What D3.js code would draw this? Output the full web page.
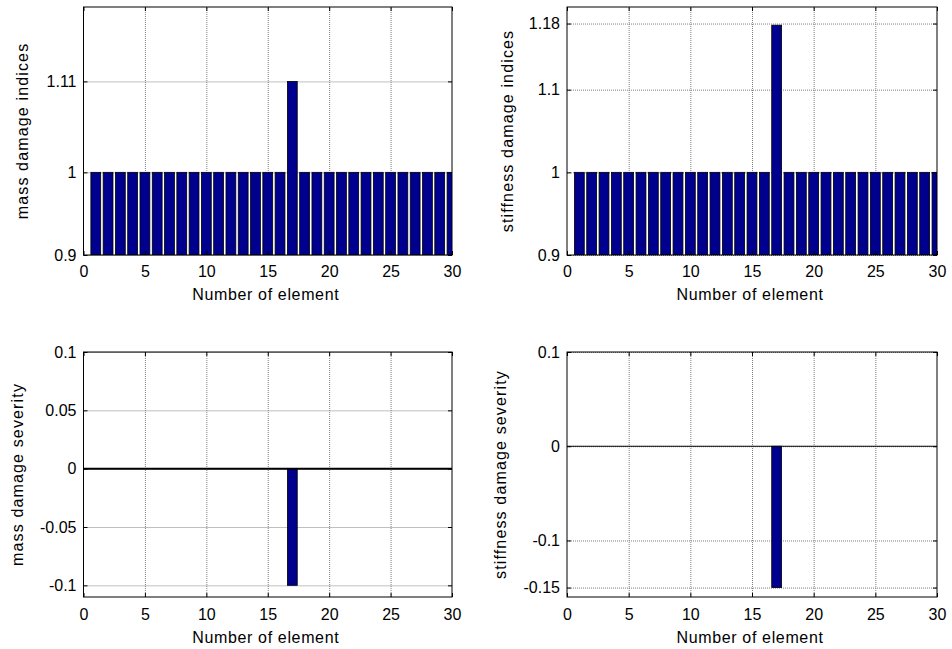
<!DOCTYPE html>
<html>
<head>
<meta charset="utf-8">
<script src="https://cdn.jsdelivr.net/npm/d3@7"></script>
<style>
    body { margin: 0; background: #fff; }
    svg { display: block; font-family: 'Liberation Sans', Arial, sans-serif; }
</style>
</head>
<body>
<div id="d3-chart"></div>
<script>
// Element numbers (categories)
const elements = [1, 2, 3, 4, 5, 6, 7, 8, 9, 10, 11, 12, 13, 14, 15,
    16, 17, 18, 19, 20, 21, 22, 23, 24, 25, 26, 27, 28, 29, 30];

// Series values
const massIndices = [1, 1, 1, 1, 1, 1, 1, 1, 1, 1, 1, 1, 1, 1, 1,
    1, 1.11, 1, 1, 1, 1, 1, 1, 1, 1, 1, 1, 1, 1, 1];
const stiffnessIndices = [1, 1, 1, 1, 1, 1, 1, 1, 1, 1, 1, 1, 1, 1, 1,
    1, 1.178, 1, 1, 1, 1, 1, 1, 1, 1, 1, 1, 1, 1, 1];
const massSeverity = [0, 0, 0, 0, 0, 0, 0, 0, 0, 0, 0, 0, 0, 0, 0,
    0, -0.1, 0, 0, 0, 0, 0, 0, 0, 0, 0, 0, 0, 0, 0];
const stiffnessSeverity = [0, 0, 0, 0, 0, 0, 0, 0, 0, 0, 0, 0, 0, 0, 0,
    0, -0.15, 0, 0, 0, 0, 0, 0, 0, 0, 0, 0, 0, 0, 0];

// Tick labels
const xTicks = [0, 5, 10, 15, 20, 25, 30];
const massIndicesTicks = [0.9, 1, 1.11];
const stiffnessIndicesTicks = [0.9, 1, 1.1, 1.18];
const massSeverityTicks = [-0.1, -0.05, 0, 0.05, 0.1];
const stiffnessSeverityTicks = [-0.15, -0.1, 0, 0.1];

const xLabel = 'Number of element';

const panels = [
    { values: massIndices, ticks: massIndicesTicks, domain: [0.9, 1.2], base: 0.9, baseline: false,
      label: 'mass damage indices', box: [83.5, 7, 452, 255], labelX: 22.5, pad: 11, xLabelY: 44.5 },
    { values: stiffnessIndices, ticks: stiffnessIndicesTicks, domain: [0.9, 1.2], base: 0.9, baseline: false,
      label: 'stiffness damage indices', box: [567, 7, 937, 255], labelX: 507, pad: 11, xLabelY: 44.5 },
    { values: massSeverity, ticks: massSeverityTicks, domain: [-0.11, 0.1], base: 0, baseline: true,
      label: 'mass damage severity', box: [83.5, 352, 452, 597], labelX: 17, pad: 11.6, xLabelY: 45.7 },
    { values: stiffnessSeverity, ticks: stiffnessSeverityTicks, domain: [-0.16, 0.1], base: 0, baseline: true,
      label: 'stiffness damage severity', box: [567, 352, 937, 597], labelX: 500, pad: 11.6, xLabelY: 45.7 }
];

const svg = d3.select('#d3-chart').append('svg')
    .attr('width', 952)
    .attr('height', 649);

const defs = svg.append('defs');

panels.forEach((p, i) => {
    const [x0, y0, x1, y1] = p.box;
    const width = x1 - x0;
    const height = y1 - y0;

    const xScale = d3.scaleLinear().domain([0, 30]).range([0, width]);
    const yScale = d3.scaleLinear().domain(p.domain).range([height, 0]);

    const g = svg.append('g')
        .attr('transform', 'translate(' + x0 + ',' + y0 + ')');

    defs.append('clipPath')
        .attr('id', 'clip' + i)
        .append('rect')
            .attr('width', width)
            .attr('height', height);

    // Grid lines (dotted)
    const xGrid = d3.axisBottom(xScale).tickValues(xTicks.slice(1, -1)).tickSize(-height).tickFormat('');
    const yGrid = d3.axisLeft(yScale).tickValues(p.ticks).tickSize(-width).tickFormat('');
    g.append('g')
        .attr('class', 'grid')
        .attr('transform', 'translate(0,' + height + ')')
        .call(xGrid);
    g.append('g')
        .attr('class', 'grid')
        .call(yGrid);
    g.selectAll('.grid .domain').remove();
    g.selectAll('.grid line')
        .attr('stroke', '#808080')
        .attr('stroke-dasharray', '1,1');

    // Bars
    const barW = xScale(0.8) - xScale(0);
    g.append('g')
        .attr('clip-path', 'url(#clip' + i + ')')
        .selectAll('rect')
        .data(elements.map((e, j) => ({ e: e, v: p.values[j] })).filter(d => d.v !== p.base))
        .enter().append('rect')
            .attr('x', d => xScale(d.e) - barW / 2)
            .attr('y', d => yScale(Math.max(d.v, p.base)))
            .attr('width', barW)
            .attr('height', d => Math.abs(yScale(d.v) - yScale(p.base)))
            .attr('fill', '#00008f')
            .attr('stroke', '#000')
            .attr('stroke-width', 0.8);

    // Bar baseline
    if (p.baseline) {
        g.append('line')
            .attr('x1', 0)
            .attr('x2', width)
            .attr('y1', yScale(0))
            .attr('y2', yScale(0))
            .attr('stroke', '#000')
            .attr('stroke-width', i === 2 ? 2 : 1.2);
    }

    // Axes with inward ticks
    const xAxis = d3.axisBottom(xScale).tickValues(xTicks).tickSizeInner(-4).tickSizeOuter(0)
        .tickPadding(p.pad).tickFormat(d => String(d));
    const yAxis = d3.axisLeft(yScale).tickValues(p.ticks).tickSizeInner(-4).tickSizeOuter(0)
        .tickPadding(7).tickFormat(d => String(d));
    const xTop = d3.axisTop(xScale).tickValues(xTicks).tickSizeInner(-4).tickSizeOuter(0).tickFormat('');
    const yRight = d3.axisRight(yScale).tickValues(p.ticks).tickSizeInner(-4).tickSizeOuter(0).tickFormat('');

    g.append('g').attr('class', 'axis').attr('transform', 'translate(0,' + height + ')').call(xAxis);
    g.append('g').attr('class', 'axis').call(yAxis);
    g.append('g').attr('class', 'axis').call(xTop);
    g.append('g').attr('class', 'axis').attr('transform', 'translate(' + width + ',0)').call(yRight);
    g.selectAll('.axis .domain').remove();
    g.selectAll('.axis line').attr('stroke', '#000');
    g.selectAll('.axis text')
        .attr('fill', '#000')
        .style('font-size', '16px')
        .style('font-family', "'Liberation Sans', Arial, sans-serif");

    // Box
    g.append('rect')
        .attr('width', width)
        .attr('height', height)
        .attr('fill', 'none')
        .attr('stroke', '#000')
        .attr('stroke-width', 1);

    // Axis labels
    g.append('text')
        .attr('x', width / 2 - 2)
        .attr('y', height + p.xLabelY)
        .attr('text-anchor', 'middle')
        .style('font-size', '16px')
        .style('letter-spacing', '0.65px')
        .text(xLabel);

    svg.append('text')
        .attr('transform', 'translate(' + p.labelX + ',' + (y0 + height / 2) + ') rotate(-90)')
        .attr('text-anchor', 'middle')
        .attr('dy', '0.35em')
        .style('font-size', '16px')
        .style('letter-spacing', '1.15px')
        .text(p.label);
});
</script>
</body>
</html>
